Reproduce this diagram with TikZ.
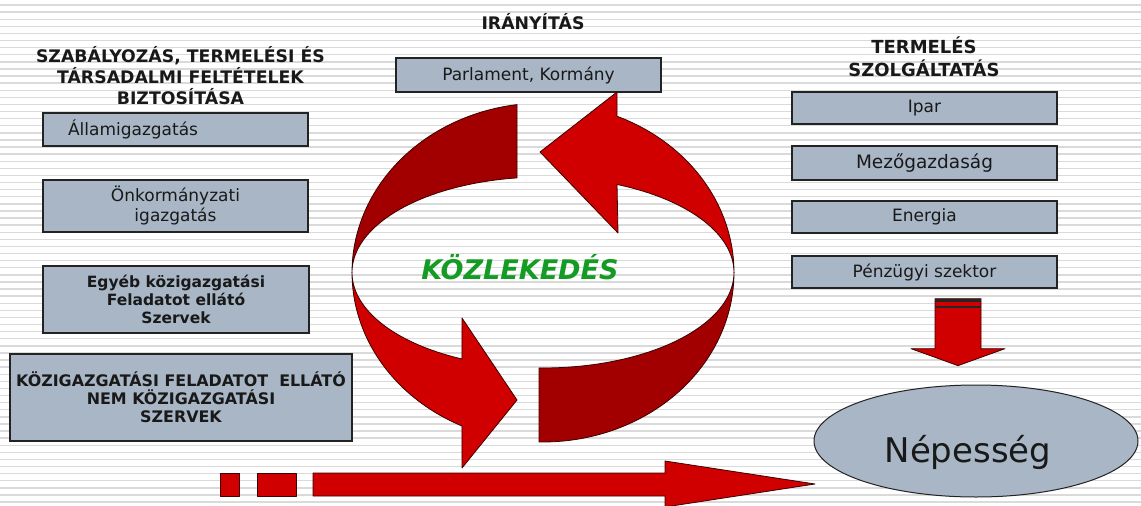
\documentclass[tikz,border=0pt]{standalone}
\usepackage{fontspec}
\setmainfont{DejaVu Sans}
\usetikzlibrary{shapes.geometric,calc}

\definecolor{boxfill}{RGB}{168,182,198}
\definecolor{boxline}{RGB}{35,35,35}
\definecolor{redfront}{RGB}{208,0,0}
\definecolor{redback}{RGB}{162,0,0}
\definecolor{redline}{RGB}{60,0,0}
\definecolor{stripe}{RGB}{218,218,218}
\definecolor{kgreen}{RGB}{20,155,35}

% ring geometry of the two curved arrows
\def\ringX{543}
\def\ringY{272.5}
\def\ringRX{191}
\def\ringRO{169.5}
\def\ringRI{95.5}

\begin{document}
\begin{tikzpicture}[x=1pt,y=-1pt,
  box/.style={draw=boxline, line width=1.3pt, fill=boxfill, inner sep=0pt,
    align=center, text=black!90, font=\fontsize{17}{20}\selectfont},
  boldbox/.style={box, font=\bfseries\fontsize{15.5}{18}\selectfont},
  hdr/.style={align=center, text=black!90, font=\bfseries\fontsize{17.3}{21}\selectfont},
  redshape/.style={draw=redline, line width=0.8pt, line join=round},
  outer/.style={variable=\t, samples=50},
]
\useasboundingbox (0,0) rectangle (1141,506);
\fill[white] (0,0) rectangle (1141,506);
% striped background
\foreach \k in {0,...,70}
  \draw[stripe, line width=1.4pt] (0,{5+7.1*\k}) -- (1141,{5+7.1*\k});

% left column
\node[hdr] (hdrL) at (180.5,76)
  {SZABÁLYOZÁS, TERMELÉSI ÉS\\TÁRSADALMI FELTÉTELEK\\BIZTOSÍTÁSA};
\node[box, minimum width=265pt, minimum height=33pt, inner xsep=25pt,
  text width=215pt, align=left] (adm) at (175.5,129.5) {Államigazgatás};
\node[box, minimum width=265pt, minimum height=52pt] (onk) at (175.5,206)
  {Önkormányzati\\igazgatás};
\node[boldbox, minimum width=266pt, minimum height=67pt] (egy) at (176,299.5)
  {Egyéb közigazgatási\\Feladatot ellátó\\Szervek};
\node[boldbox, minimum width=342pt, minimum height=87pt,
  font=\bfseries\fontsize{15.9}{18}\selectfont] (koz) at (181,397.5)
  {KÖZIGAZGATÁSI FELADATOT\ \ ELLÁTÓ\\NEM KÖZIGAZGATÁSI\\SZERVEK};

% centre column
\node[hdr] (ira) at (533,22) {IRÁNYÍTÁS};
\node[box, minimum width=265pt, minimum height=34pt] (parl) at (528.5,75)
  {Parlament, Kormány};

% right column
\node[hdr, font=\bfseries\fontsize{18}{23}\selectfont] (hdrR) at (924,57)
  {TERMELÉS\\SZOLGÁLTATÁS};
\node[box, minimum width=265pt, minimum height=32pt] (ipar) at (924.5,108) {Ipar};
\node[box, minimum width=265pt, minimum height=34pt,
  font=\fontsize{18.5}{22}\selectfont] (mezo) at (924.5,163) {Mezőgazdaság};
\node[box, minimum width=265pt, minimum height=32pt] (ener) at (924.5,217) {Energia};
\node[box, minimum width=265pt, minimum height=32pt] (penz) at (924.5,272)
  {Pénzügyi szektor};
\node[ellipse, draw=boxline, line width=1pt, fill=boxfill, inner sep=0pt,
  minimum width=324pt, minimum height=112pt, text=black!90,
  text height=42pt, text depth=0pt,
  font=\fontsize{34}{40}\selectfont] (nep) at (976,441)
  {\hspace*{-16pt}Népesség};

% block arrow from the sectors down to the population
\begin{scope}[shift={(penz.south)}]
  \filldraw[redshape, fill=redfront]
    (10.5,10) -- (56.5,10) -- (56.5,60) -- (80.5,60) -- (33.5,77)
    -- (-13.5,60) -- (10.5,60) -- cycle;
  \fill[black!85] (10.5,10) rectangle (56.5,13.7);
  \fill[black!85] (10.5,17) rectangle (56.5,19.3);
\end{scope}

% circular arrows: back (dark) parts
\filldraw[redshape, fill=redback]
  plot[outer, domain=262.2:180] ({\ringX+\ringRX*cos(\t)},{\ringY+\ringRO*sin(\t)})
  -- plot[outer, domain=180:262.2] ({\ringX+\ringRX*cos(\t)},{\ringY+\ringRI*sin(\t)})
  -- cycle;
\filldraw[redshape, fill=redback]
  plot[outer, domain=0:91.2] ({\ringX+\ringRX*cos(\t)},{\ringY+\ringRO*sin(\t)})
  -- plot[outer, domain=91.2:0] ({\ringX+\ringRX*cos(\t)},{\ringY+\ringRI*sin(\t)})
  -- cycle;
% front (bright) parts with heads
\filldraw[redshape, fill=redfront]
  plot[outer, domain=180:115.1] ({\ringX+\ringRX*cos(\t)},{\ringY+\ringRO*sin(\t)})
  -- (462,468) -- (517,400) -- (462,318)
  -- plot[outer, domain=115.1:180] ({\ringX+\ringRX*cos(\t)},{\ringY+\ringRI*sin(\t)})
  -- cycle;
\filldraw[redshape, fill=redfront]
  (618,233) -- (540,152) -- (617,92)
  -- plot[outer, domain=292.8:360] ({\ringX+\ringRX*cos(\t)},{\ringY+\ringRO*sin(\t)})
  -- plot[outer, domain=360:292.8] ({\ringX+\ringRX*cos(\t)},{\ringY+\ringRI*sin(\t)})
  -- cycle;

\node[text=kgreen, font=\bfseries\itshape\fontsize{27}{31}\selectfont] (kozl)
  at (520,267) {KÖZLEKEDÉS};

% long arrow along the bottom
\filldraw[redshape, fill=redfront] (220,473) rectangle (239,496);
\filldraw[redshape, fill=redfront] (257,473) rectangle (296,496);
\filldraw[redshape, fill=redfront]
  (313,473) -- (665,473) -- (665,461) -- (815,484) -- (665,507)
  -- (665,496) -- (313,496) -- cycle;
\end{tikzpicture}
\end{document}
